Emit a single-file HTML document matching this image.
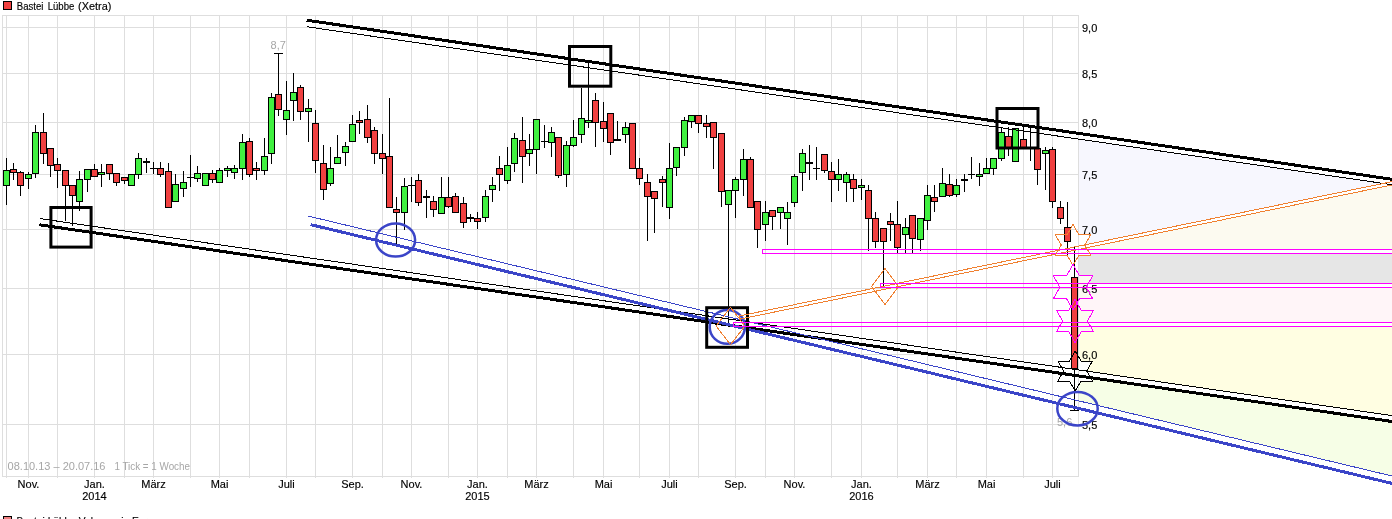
<!DOCTYPE html>
<html lang="de"><head><meta charset="utf-8"><title>Bastei Lübbe (Xetra)</title>
<style>html,body{margin:0;padding:0;background:#fff;overflow:hidden}body{width:1392px;height:519px;position:relative;font-family:"Liberation Sans",Arial,sans-serif}svg text{white-space:pre;paint-order:stroke} svg text.k{stroke:#000;stroke-width:0.15px} svg text.g{stroke:none}</style>
</head><body>
<svg width="1392" height="519" viewBox="0 0 1392 519" style="position:absolute;left:0;top:0">
<rect width="1392" height="519" fill="#fff"/>
<g shape-rendering="crispEdges">
<polygon points="1079,139.1 1392,184.7 1079,247.8" fill="#f7f7fe"/>
<polygon points="1079,247.8 1392,183.5 1392,249 1079,249" fill="#fcfaf0"/>
<rect x="1079" y="253" width="313" height="31" fill="#e6e6e6"/>
<rect x="1079" y="287" width="313" height="36" fill="#fff5f8"/>
<polygon points="1079,326 1392,326 1392,415.6 1079,370.0" fill="#fffee2"/>
<polygon points="1079,376.0 1392,421.5 1392,476 1079,400.9" fill="#f6fee6"/>
<defs><clipPath id="rc"><rect x="1079" y="0" width="400" height="519"/></clipPath></defs>
<polygon points="1073.00,224.60 1078.89,234.80 1090.67,234.80 1084.78,245.00 1090.67,255.20 1078.89,255.20 1073.00,265.40 1067.11,255.20 1055.33,255.20 1061.22,245.00 1055.33,234.80 1067.11,234.80" fill="#ffffff" clip-path="url(#rc)"/>
<polygon points="1073.00,264.60 1079.55,275.95 1092.66,275.95 1086.11,287.30 1092.66,298.65 1079.55,298.65 1073.00,310.00 1066.45,298.65 1053.34,298.65 1059.89,287.30 1053.34,275.95 1066.45,275.95" fill="#fcfaf0" clip-path="url(#rc)"/>
<polygon points="1075.00,299.50 1081.21,310.25 1093.62,310.25 1087.41,321.00 1093.62,331.75 1081.21,331.75 1075.00,342.50 1068.79,331.75 1056.38,331.75 1062.59,321.00 1056.38,310.25 1068.79,310.25" fill="#fcfaf0" clip-path="url(#rc)"/>
<polygon points="1075.20,351.00 1080.97,361.00 1092.52,361.00 1086.75,371.00 1092.52,381.00 1080.97,381.00 1075.20,391.00 1069.43,381.00 1057.88,381.00 1063.65,371.00 1057.88,361.00 1069.43,361.00" fill="#ffffff" clip-path="url(#rc)"/>
<polygon points="740.12,319.07 1402.32,182.81 1401.68,179.67 739.48,315.93" fill="#ffffff" clip-path="url(#rc)"/>
<rect x="2" y="27" width="1077" height="1" fill="#dedede"/>
<rect x="2" y="73" width="1077" height="1" fill="#dedede"/>
<rect x="2" y="122" width="1077" height="1" fill="#dedede"/>
<rect x="2" y="174" width="1077" height="1" fill="#dedede"/>
<rect x="2" y="229" width="1077" height="1" fill="#dedede"/>
<rect x="2" y="288" width="1077" height="1" fill="#dedede"/>
<rect x="2" y="354" width="1077" height="1" fill="#dedede"/>
<rect x="2" y="424" width="1077" height="1" fill="#dedede"/>
<rect x="6" y="15" width="1" height="463" fill="#dedede"/>
<rect x="28" y="15" width="1" height="463" fill="#dedede"/>
<rect x="57" y="15" width="1" height="463" fill="#dedede"/>
<rect x="94" y="15" width="1" height="463" fill="#dedede"/>
<rect x="124" y="15" width="1" height="463" fill="#dedede"/>
<rect x="153" y="15" width="1" height="463" fill="#dedede"/>
<rect x="190" y="15" width="1" height="463" fill="#dedede"/>
<rect x="219" y="15" width="1" height="463" fill="#dedede"/>
<rect x="249" y="15" width="1" height="463" fill="#dedede"/>
<rect x="286" y="15" width="1" height="463" fill="#dedede"/>
<rect x="315" y="15" width="1" height="463" fill="#dedede"/>
<rect x="352" y="15" width="1" height="463" fill="#dedede"/>
<rect x="382" y="15" width="1" height="463" fill="#dedede"/>
<rect x="411" y="15" width="1" height="463" fill="#dedede"/>
<rect x="448" y="15" width="1" height="463" fill="#dedede"/>
<rect x="477" y="15" width="1" height="463" fill="#dedede"/>
<rect x="507" y="15" width="1" height="463" fill="#dedede"/>
<rect x="536" y="15" width="1" height="463" fill="#dedede"/>
<rect x="573" y="15" width="1" height="463" fill="#dedede"/>
<rect x="603" y="15" width="1" height="463" fill="#dedede"/>
<rect x="639" y="15" width="1" height="463" fill="#dedede"/>
<rect x="669" y="15" width="1" height="463" fill="#dedede"/>
<rect x="698" y="15" width="1" height="463" fill="#dedede"/>
<rect x="735" y="15" width="1" height="463" fill="#dedede"/>
<rect x="765" y="15" width="1" height="463" fill="#dedede"/>
<rect x="794" y="15" width="1" height="463" fill="#dedede"/>
<rect x="831" y="15" width="1" height="463" fill="#dedede"/>
<rect x="861" y="15" width="1" height="463" fill="#dedede"/>
<rect x="897" y="15" width="1" height="463" fill="#dedede"/>
<rect x="927" y="15" width="1" height="463" fill="#dedede"/>
<rect x="956" y="15" width="1" height="463" fill="#dedede"/>
<rect x="986" y="15" width="1" height="463" fill="#dedede"/>
<rect x="1023" y="15" width="1" height="463" fill="#dedede"/>
<rect x="1052" y="15" width="1" height="463" fill="#dedede"/>
<rect x="2" y="15" width="1077" height="1" fill="#dedede"/>
<rect x="2" y="476" width="1077" height="1" fill="#dedede"/>
<rect x="2" y="15" width="1" height="462" fill="#dedede"/>
<rect x="1078" y="15" width="1" height="462" fill="#dedede"/>
<rect x="6" y="158" width="1" height="47" fill="#000"/>
<rect x="3" y="170" width="7" height="16" fill="#000"/>
<rect x="4" y="171" width="5" height="14" fill="#40f040"/>
<rect x="13" y="163" width="1" height="17" fill="#000"/>
<rect x="10" y="169" width="7" height="4" fill="#000"/>
<rect x="11" y="170" width="5" height="2" fill="#f04040"/>
<rect x="20" y="171" width="1" height="25" fill="#000"/>
<rect x="17" y="172" width="7" height="14" fill="#000"/>
<rect x="18" y="173" width="5" height="12" fill="#f04040"/>
<rect x="28" y="172" width="1" height="17" fill="#000"/>
<rect x="25" y="174" width="7" height="5" fill="#000"/>
<rect x="26" y="175" width="5" height="3" fill="#40f040"/>
<rect x="35" y="125" width="1" height="53" fill="#000"/>
<rect x="32" y="132" width="7" height="42" fill="#000"/>
<rect x="33" y="133" width="5" height="40" fill="#40f040"/>
<rect x="43" y="113" width="1" height="51" fill="#000"/>
<rect x="40" y="132" width="7" height="22" fill="#000"/>
<rect x="41" y="133" width="5" height="20" fill="#f04040"/>
<rect x="50" y="148" width="1" height="29" fill="#000"/>
<rect x="47" y="148" width="7" height="18" fill="#000"/>
<rect x="48" y="149" width="5" height="16" fill="#f04040"/>
<rect x="57" y="158" width="1" height="30" fill="#000"/>
<rect x="54" y="164" width="7" height="7" fill="#000"/>
<rect x="55" y="165" width="5" height="5" fill="#f04040"/>
<rect x="65" y="170" width="1" height="51" fill="#000"/>
<rect x="62" y="170" width="7" height="16" fill="#000"/>
<rect x="63" y="171" width="5" height="14" fill="#f04040"/>
<rect x="72" y="185" width="1" height="41" fill="#000"/>
<rect x="69" y="185" width="7" height="11" fill="#000"/>
<rect x="70" y="186" width="5" height="9" fill="#f04040"/>
<rect x="79" y="171" width="1" height="40" fill="#000"/>
<rect x="76" y="179" width="7" height="23" fill="#000"/>
<rect x="77" y="180" width="5" height="21" fill="#40f040"/>
<rect x="87" y="169" width="1" height="23" fill="#000"/>
<rect x="84" y="169" width="7" height="11" fill="#000"/>
<rect x="85" y="170" width="5" height="9" fill="#40f040"/>
<rect x="94" y="164" width="1" height="13" fill="#000"/>
<rect x="91" y="169" width="7" height="8" fill="#000"/>
<rect x="92" y="170" width="5" height="6" fill="#f04040"/>
<rect x="101" y="164" width="1" height="23" fill="#000"/>
<rect x="98" y="172" width="7" height="3" fill="#000"/>
<rect x="99" y="173" width="5" height="1" fill="#40f040"/>
<rect x="109" y="164" width="1" height="16" fill="#000"/>
<rect x="106" y="164" width="7" height="10" fill="#000"/>
<rect x="107" y="165" width="5" height="8" fill="#f04040"/>
<rect x="116" y="173" width="1" height="13" fill="#000"/>
<rect x="113" y="173" width="7" height="10" fill="#000"/>
<rect x="114" y="174" width="5" height="8" fill="#f04040"/>
<rect x="124" y="177" width="1" height="7" fill="#000"/>
<rect x="121" y="177" width="7" height="4" fill="#000"/>
<rect x="122" y="178" width="5" height="2" fill="#f04040"/>
<rect x="131" y="174" width="1" height="12" fill="#000"/>
<rect x="128" y="174" width="7" height="12" fill="#000"/>
<rect x="129" y="175" width="5" height="10" fill="#40f040"/>
<rect x="138" y="153" width="1" height="26" fill="#000"/>
<rect x="135" y="158" width="7" height="17" fill="#000"/>
<rect x="136" y="159" width="5" height="15" fill="#40f040"/>
<rect x="146" y="158" width="1" height="15" fill="#000"/>
<rect x="143" y="161" width="7" height="2" fill="#000"/>
<rect x="153" y="162" width="1" height="12" fill="#000"/>
<rect x="150" y="168" width="7" height="1" fill="#000"/>
<rect x="160" y="162" width="1" height="15" fill="#000"/>
<rect x="157" y="168" width="7" height="7" fill="#000"/>
<rect x="158" y="169" width="5" height="5" fill="#f04040"/>
<rect x="168" y="163" width="1" height="45" fill="#000"/>
<rect x="165" y="171" width="7" height="37" fill="#000"/>
<rect x="166" y="172" width="5" height="35" fill="#f04040"/>
<rect x="175" y="174" width="1" height="28" fill="#000"/>
<rect x="172" y="184" width="7" height="18" fill="#000"/>
<rect x="173" y="185" width="5" height="16" fill="#40f040"/>
<rect x="183" y="171" width="1" height="26" fill="#000"/>
<rect x="180" y="182" width="7" height="7" fill="#000"/>
<rect x="181" y="183" width="5" height="5" fill="#40f040"/>
<rect x="190" y="155" width="1" height="32" fill="#000"/>
<rect x="187" y="177" width="7" height="1" fill="#000"/>
<rect x="197" y="166" width="1" height="16" fill="#000"/>
<rect x="194" y="173" width="7" height="6" fill="#000"/>
<rect x="195" y="174" width="5" height="4" fill="#40f040"/>
<rect x="205" y="173" width="1" height="13" fill="#000"/>
<rect x="202" y="173" width="7" height="13" fill="#000"/>
<rect x="203" y="174" width="5" height="11" fill="#40f040"/>
<rect x="212" y="170" width="1" height="13" fill="#000"/>
<rect x="209" y="173" width="7" height="7" fill="#000"/>
<rect x="210" y="174" width="5" height="5" fill="#f04040"/>
<rect x="219" y="168" width="1" height="15" fill="#000"/>
<rect x="216" y="170" width="7" height="13" fill="#000"/>
<rect x="217" y="171" width="5" height="11" fill="#40f040"/>
<rect x="227" y="166" width="1" height="11" fill="#000"/>
<rect x="224" y="168" width="7" height="3" fill="#000"/>
<rect x="225" y="169" width="5" height="1" fill="#40f040"/>
<rect x="234" y="165" width="1" height="14" fill="#000"/>
<rect x="231" y="168" width="7" height="5" fill="#000"/>
<rect x="232" y="169" width="5" height="3" fill="#40f040"/>
<rect x="242" y="134" width="1" height="46" fill="#000"/>
<rect x="239" y="142" width="7" height="27" fill="#000"/>
<rect x="240" y="143" width="5" height="25" fill="#40f040"/>
<rect x="249" y="138" width="1" height="39" fill="#000"/>
<rect x="246" y="141" width="7" height="34" fill="#000"/>
<rect x="247" y="142" width="5" height="32" fill="#f04040"/>
<rect x="256" y="162" width="1" height="18" fill="#000"/>
<rect x="253" y="168" width="7" height="3" fill="#000"/>
<rect x="254" y="169" width="5" height="1" fill="#f04040"/>
<rect x="264" y="138" width="1" height="37" fill="#000"/>
<rect x="261" y="156" width="7" height="15" fill="#000"/>
<rect x="262" y="157" width="5" height="13" fill="#40f040"/>
<rect x="271" y="93" width="1" height="71" fill="#000"/>
<rect x="268" y="97" width="7" height="57" fill="#000"/>
<rect x="269" y="98" width="5" height="55" fill="#40f040"/>
<rect x="278" y="53" width="1" height="63" fill="#000"/>
<rect x="275" y="94" width="7" height="16" fill="#000"/>
<rect x="276" y="95" width="5" height="14" fill="#f04040"/>
<rect x="286" y="81" width="1" height="54" fill="#000"/>
<rect x="283" y="110" width="7" height="10" fill="#000"/>
<rect x="284" y="111" width="5" height="8" fill="#40f040"/>
<rect x="293" y="73" width="1" height="48" fill="#000"/>
<rect x="290" y="92" width="7" height="9" fill="#000"/>
<rect x="291" y="93" width="5" height="7" fill="#40f040"/>
<rect x="300" y="85" width="1" height="35" fill="#000"/>
<rect x="297" y="87" width="7" height="25" fill="#000"/>
<rect x="298" y="88" width="5" height="23" fill="#f04040"/>
<rect x="308" y="99" width="1" height="43" fill="#000"/>
<rect x="305" y="108" width="7" height="4" fill="#000"/>
<rect x="306" y="109" width="5" height="2" fill="#40f040"/>
<rect x="315" y="110" width="1" height="63" fill="#000"/>
<rect x="312" y="123" width="7" height="38" fill="#000"/>
<rect x="313" y="124" width="5" height="36" fill="#f04040"/>
<rect x="323" y="145" width="1" height="55" fill="#000"/>
<rect x="320" y="163" width="7" height="27" fill="#000"/>
<rect x="321" y="164" width="5" height="25" fill="#f04040"/>
<rect x="330" y="147" width="1" height="39" fill="#000"/>
<rect x="327" y="168" width="7" height="16" fill="#000"/>
<rect x="328" y="169" width="5" height="14" fill="#40f040"/>
<rect x="337" y="135" width="1" height="29" fill="#000"/>
<rect x="334" y="157" width="7" height="7" fill="#000"/>
<rect x="335" y="158" width="5" height="5" fill="#40f040"/>
<rect x="345" y="142" width="1" height="24" fill="#000"/>
<rect x="342" y="146" width="7" height="7" fill="#000"/>
<rect x="343" y="147" width="5" height="5" fill="#40f040"/>
<rect x="352" y="115" width="1" height="27" fill="#000"/>
<rect x="349" y="124" width="7" height="18" fill="#000"/>
<rect x="350" y="125" width="5" height="16" fill="#40f040"/>
<rect x="359" y="111" width="1" height="23" fill="#000"/>
<rect x="356" y="120" width="7" height="3" fill="#000"/>
<rect x="357" y="121" width="5" height="1" fill="#f04040"/>
<rect x="367" y="105" width="1" height="38" fill="#000"/>
<rect x="364" y="119" width="7" height="19" fill="#000"/>
<rect x="365" y="120" width="5" height="17" fill="#f04040"/>
<rect x="374" y="127" width="1" height="37" fill="#000"/>
<rect x="371" y="130" width="7" height="24" fill="#000"/>
<rect x="372" y="131" width="5" height="22" fill="#f04040"/>
<rect x="382" y="134" width="1" height="40" fill="#000"/>
<rect x="379" y="153" width="7" height="6" fill="#000"/>
<rect x="380" y="154" width="5" height="4" fill="#f04040"/>
<rect x="389" y="98" width="1" height="110" fill="#000"/>
<rect x="386" y="156" width="7" height="52" fill="#000"/>
<rect x="387" y="157" width="5" height="50" fill="#f04040"/>
<rect x="396" y="197" width="1" height="47" fill="#000"/>
<rect x="393" y="209" width="7" height="4" fill="#000"/>
<rect x="394" y="210" width="5" height="2" fill="#f04040"/>
<rect x="404" y="178" width="1" height="52" fill="#000"/>
<rect x="401" y="186" width="7" height="27" fill="#000"/>
<rect x="402" y="187" width="5" height="25" fill="#40f040"/>
<rect x="411" y="177" width="1" height="25" fill="#000"/>
<rect x="408" y="185" width="7" height="1" fill="#000"/>
<rect x="418" y="174" width="1" height="32" fill="#000"/>
<rect x="415" y="180" width="7" height="23" fill="#000"/>
<rect x="416" y="181" width="5" height="21" fill="#f04040"/>
<rect x="426" y="190" width="1" height="28" fill="#000"/>
<rect x="423" y="196" width="7" height="2" fill="#000"/>
<rect x="433" y="196" width="1" height="21" fill="#000"/>
<rect x="430" y="201" width="7" height="9" fill="#000"/>
<rect x="431" y="202" width="5" height="7" fill="#f04040"/>
<rect x="441" y="177" width="1" height="37" fill="#000"/>
<rect x="438" y="197" width="7" height="17" fill="#000"/>
<rect x="439" y="198" width="5" height="15" fill="#40f040"/>
<rect x="448" y="177" width="1" height="31" fill="#000"/>
<rect x="445" y="197" width="7" height="10" fill="#000"/>
<rect x="446" y="198" width="5" height="8" fill="#f04040"/>
<rect x="455" y="193" width="1" height="20" fill="#000"/>
<rect x="452" y="196" width="7" height="17" fill="#000"/>
<rect x="453" y="197" width="5" height="15" fill="#f04040"/>
<rect x="463" y="197" width="1" height="31" fill="#000"/>
<rect x="460" y="203" width="7" height="20" fill="#000"/>
<rect x="461" y="204" width="5" height="18" fill="#f04040"/>
<rect x="470" y="214" width="1" height="8" fill="#000"/>
<rect x="467" y="217" width="7" height="2" fill="#000"/>
<rect x="477" y="212" width="1" height="17" fill="#000"/>
<rect x="474" y="218" width="7" height="4" fill="#000"/>
<rect x="475" y="219" width="5" height="2" fill="#f04040"/>
<rect x="485" y="190" width="1" height="32" fill="#000"/>
<rect x="482" y="196" width="7" height="22" fill="#000"/>
<rect x="483" y="197" width="5" height="20" fill="#40f040"/>
<rect x="492" y="177" width="1" height="25" fill="#000"/>
<rect x="489" y="185" width="7" height="5" fill="#000"/>
<rect x="490" y="186" width="5" height="3" fill="#40f040"/>
<rect x="499" y="156" width="1" height="35" fill="#000"/>
<rect x="496" y="168" width="7" height="7" fill="#000"/>
<rect x="497" y="169" width="5" height="5" fill="#f04040"/>
<rect x="507" y="147" width="1" height="37" fill="#000"/>
<rect x="504" y="165" width="7" height="16" fill="#000"/>
<rect x="505" y="166" width="5" height="14" fill="#40f040"/>
<rect x="514" y="133" width="1" height="39" fill="#000"/>
<rect x="511" y="138" width="7" height="26" fill="#000"/>
<rect x="512" y="139" width="5" height="24" fill="#40f040"/>
<rect x="522" y="117" width="1" height="66" fill="#000"/>
<rect x="519" y="140" width="7" height="17" fill="#000"/>
<rect x="520" y="141" width="5" height="15" fill="#f04040"/>
<rect x="529" y="134" width="1" height="32" fill="#000"/>
<rect x="526" y="149" width="7" height="5" fill="#000"/>
<rect x="527" y="150" width="5" height="3" fill="#40f040"/>
<rect x="536" y="119" width="1" height="55" fill="#000"/>
<rect x="533" y="119" width="7" height="31" fill="#000"/>
<rect x="534" y="120" width="5" height="29" fill="#40f040"/>
<rect x="544" y="125" width="1" height="23" fill="#000"/>
<rect x="541" y="141" width="7" height="1" fill="#000"/>
<rect x="551" y="127" width="1" height="30" fill="#000"/>
<rect x="548" y="132" width="7" height="11" fill="#000"/>
<rect x="549" y="133" width="5" height="9" fill="#40f040"/>
<rect x="558" y="137" width="1" height="41" fill="#000"/>
<rect x="555" y="137" width="7" height="39" fill="#000"/>
<rect x="556" y="138" width="5" height="37" fill="#f04040"/>
<rect x="566" y="141" width="1" height="46" fill="#000"/>
<rect x="563" y="145" width="7" height="30" fill="#000"/>
<rect x="564" y="146" width="5" height="28" fill="#40f040"/>
<rect x="573" y="120" width="1" height="27" fill="#000"/>
<rect x="570" y="137" width="7" height="9" fill="#000"/>
<rect x="571" y="138" width="5" height="7" fill="#40f040"/>
<rect x="581" y="88" width="1" height="55" fill="#000"/>
<rect x="578" y="118" width="7" height="17" fill="#000"/>
<rect x="579" y="119" width="5" height="15" fill="#40f040"/>
<rect x="588" y="62" width="1" height="66" fill="#000"/>
<rect x="585" y="120" width="7" height="3" fill="#000"/>
<rect x="586" y="121" width="5" height="1" fill="#40f040"/>
<rect x="595" y="93" width="1" height="54" fill="#000"/>
<rect x="592" y="100" width="7" height="23" fill="#000"/>
<rect x="593" y="101" width="5" height="21" fill="#f04040"/>
<rect x="603" y="102" width="1" height="40" fill="#000"/>
<rect x="600" y="121" width="7" height="8" fill="#000"/>
<rect x="601" y="122" width="5" height="6" fill="#f04040"/>
<rect x="610" y="113" width="1" height="42" fill="#000"/>
<rect x="607" y="113" width="7" height="30" fill="#000"/>
<rect x="608" y="114" width="5" height="28" fill="#f04040"/>
<rect x="617" y="121" width="1" height="20" fill="#000"/>
<rect x="614" y="139" width="7" height="2" fill="#000"/>
<rect x="625" y="122" width="1" height="21" fill="#000"/>
<rect x="622" y="127" width="7" height="8" fill="#000"/>
<rect x="623" y="128" width="5" height="6" fill="#40f040"/>
<rect x="632" y="123" width="1" height="46" fill="#000"/>
<rect x="629" y="123" width="7" height="46" fill="#000"/>
<rect x="630" y="124" width="5" height="44" fill="#f04040"/>
<rect x="639" y="158" width="1" height="27" fill="#000"/>
<rect x="636" y="168" width="7" height="11" fill="#000"/>
<rect x="637" y="169" width="5" height="9" fill="#f04040"/>
<rect x="647" y="174" width="1" height="67" fill="#000"/>
<rect x="644" y="182" width="7" height="15" fill="#000"/>
<rect x="645" y="183" width="5" height="13" fill="#f04040"/>
<rect x="654" y="191" width="1" height="42" fill="#000"/>
<rect x="651" y="191" width="7" height="8" fill="#000"/>
<rect x="652" y="192" width="5" height="6" fill="#f04040"/>
<rect x="662" y="176" width="1" height="31" fill="#000"/>
<rect x="659" y="179" width="7" height="4" fill="#000"/>
<rect x="660" y="180" width="5" height="2" fill="#f04040"/>
<rect x="669" y="143" width="1" height="76" fill="#000"/>
<rect x="666" y="168" width="7" height="40" fill="#000"/>
<rect x="667" y="169" width="5" height="38" fill="#40f040"/>
<rect x="676" y="147" width="1" height="29" fill="#000"/>
<rect x="673" y="147" width="7" height="21" fill="#000"/>
<rect x="674" y="148" width="5" height="19" fill="#40f040"/>
<rect x="684" y="117" width="1" height="39" fill="#000"/>
<rect x="681" y="120" width="7" height="28" fill="#000"/>
<rect x="682" y="121" width="5" height="26" fill="#40f040"/>
<rect x="691" y="115" width="1" height="13" fill="#000"/>
<rect x="688" y="115" width="7" height="7" fill="#000"/>
<rect x="689" y="116" width="5" height="5" fill="#40f040"/>
<rect x="698" y="115" width="1" height="18" fill="#000"/>
<rect x="695" y="115" width="7" height="9" fill="#000"/>
<rect x="696" y="116" width="5" height="7" fill="#f04040"/>
<rect x="706" y="115" width="1" height="23" fill="#000"/>
<rect x="703" y="123" width="7" height="4" fill="#000"/>
<rect x="704" y="124" width="5" height="2" fill="#f04040"/>
<rect x="713" y="122" width="1" height="47" fill="#000"/>
<rect x="710" y="122" width="7" height="16" fill="#000"/>
<rect x="711" y="123" width="5" height="14" fill="#f04040"/>
<rect x="721" y="133" width="1" height="74" fill="#000"/>
<rect x="718" y="133" width="7" height="59" fill="#000"/>
<rect x="719" y="134" width="5" height="57" fill="#f04040"/>
<rect x="728" y="190" width="1" height="133" fill="#000"/>
<rect x="725" y="190" width="7" height="15" fill="#000"/>
<rect x="726" y="191" width="5" height="13" fill="#40f040"/>
<rect x="735" y="177" width="1" height="41" fill="#000"/>
<rect x="732" y="179" width="7" height="12" fill="#000"/>
<rect x="733" y="180" width="5" height="10" fill="#40f040"/>
<rect x="743" y="149" width="1" height="47" fill="#000"/>
<rect x="740" y="159" width="7" height="21" fill="#000"/>
<rect x="741" y="160" width="5" height="19" fill="#40f040"/>
<rect x="750" y="157" width="1" height="51" fill="#000"/>
<rect x="747" y="159" width="7" height="49" fill="#000"/>
<rect x="748" y="160" width="5" height="47" fill="#f04040"/>
<rect x="757" y="201" width="1" height="47" fill="#000"/>
<rect x="754" y="201" width="7" height="29" fill="#000"/>
<rect x="755" y="202" width="5" height="27" fill="#f04040"/>
<rect x="765" y="201" width="1" height="40" fill="#000"/>
<rect x="762" y="212" width="7" height="13" fill="#000"/>
<rect x="763" y="213" width="5" height="11" fill="#40f040"/>
<rect x="772" y="210" width="1" height="20" fill="#000"/>
<rect x="769" y="210" width="7" height="7" fill="#000"/>
<rect x="770" y="211" width="5" height="5" fill="#f04040"/>
<rect x="780" y="207" width="1" height="22" fill="#000"/>
<rect x="777" y="207" width="7" height="6" fill="#000"/>
<rect x="778" y="208" width="5" height="4" fill="#40f040"/>
<rect x="787" y="202" width="1" height="43" fill="#000"/>
<rect x="784" y="212" width="7" height="7" fill="#000"/>
<rect x="785" y="213" width="5" height="5" fill="#40f040"/>
<rect x="794" y="174" width="1" height="33" fill="#000"/>
<rect x="791" y="176" width="7" height="27" fill="#000"/>
<rect x="792" y="177" width="5" height="25" fill="#40f040"/>
<rect x="802" y="149" width="1" height="42" fill="#000"/>
<rect x="799" y="153" width="7" height="20" fill="#000"/>
<rect x="800" y="154" width="5" height="18" fill="#40f040"/>
<rect x="809" y="145" width="1" height="35" fill="#000"/>
<rect x="806" y="162" width="7" height="2" fill="#000"/>
<rect x="816" y="147" width="1" height="33" fill="#000"/>
<rect x="813" y="168" width="7" height="1" fill="#000"/>
<rect x="824" y="154" width="1" height="19" fill="#000"/>
<rect x="821" y="154" width="7" height="17" fill="#000"/>
<rect x="822" y="155" width="5" height="15" fill="#f04040"/>
<rect x="831" y="162" width="1" height="40" fill="#000"/>
<rect x="828" y="171" width="7" height="9" fill="#000"/>
<rect x="829" y="172" width="5" height="7" fill="#f04040"/>
<rect x="838" y="159" width="1" height="32" fill="#000"/>
<rect x="835" y="174" width="7" height="6" fill="#000"/>
<rect x="836" y="175" width="5" height="4" fill="#40f040"/>
<rect x="846" y="172" width="1" height="30" fill="#000"/>
<rect x="843" y="174" width="7" height="9" fill="#000"/>
<rect x="844" y="175" width="5" height="7" fill="#40f040"/>
<rect x="853" y="174" width="1" height="28" fill="#000"/>
<rect x="850" y="179" width="7" height="10" fill="#000"/>
<rect x="851" y="180" width="5" height="8" fill="#f04040"/>
<rect x="861" y="179" width="1" height="21" fill="#000"/>
<rect x="858" y="185" width="7" height="3" fill="#000"/>
<rect x="859" y="186" width="5" height="1" fill="#40f040"/>
<rect x="868" y="185" width="1" height="66" fill="#000"/>
<rect x="865" y="190" width="7" height="29" fill="#000"/>
<rect x="866" y="191" width="5" height="27" fill="#f04040"/>
<rect x="875" y="212" width="1" height="36" fill="#000"/>
<rect x="872" y="218" width="7" height="24" fill="#000"/>
<rect x="873" y="219" width="5" height="22" fill="#f04040"/>
<rect x="883" y="228" width="1" height="60" fill="#000"/>
<rect x="880" y="228" width="7" height="14" fill="#000"/>
<rect x="881" y="229" width="5" height="12" fill="#f04040"/>
<rect x="890" y="213" width="1" height="28" fill="#000"/>
<rect x="887" y="221" width="7" height="4" fill="#000"/>
<rect x="888" y="222" width="5" height="2" fill="#f04040"/>
<rect x="897" y="201" width="1" height="52" fill="#000"/>
<rect x="894" y="224" width="7" height="24" fill="#000"/>
<rect x="895" y="225" width="5" height="22" fill="#f04040"/>
<rect x="905" y="218" width="1" height="35" fill="#000"/>
<rect x="902" y="227" width="7" height="8" fill="#000"/>
<rect x="903" y="228" width="5" height="6" fill="#40f040"/>
<rect x="912" y="215" width="1" height="38" fill="#000"/>
<rect x="909" y="215" width="7" height="24" fill="#000"/>
<rect x="910" y="216" width="5" height="22" fill="#f04040"/>
<rect x="920" y="218" width="1" height="33" fill="#000"/>
<rect x="917" y="218" width="7" height="22" fill="#000"/>
<rect x="918" y="219" width="5" height="20" fill="#40f040"/>
<rect x="927" y="185" width="1" height="45" fill="#000"/>
<rect x="924" y="195" width="7" height="26" fill="#000"/>
<rect x="925" y="196" width="5" height="24" fill="#40f040"/>
<rect x="934" y="185" width="1" height="27" fill="#000"/>
<rect x="931" y="197" width="7" height="5" fill="#000"/>
<rect x="932" y="198" width="5" height="3" fill="#f04040"/>
<rect x="942" y="168" width="1" height="29" fill="#000"/>
<rect x="939" y="183" width="7" height="14" fill="#000"/>
<rect x="940" y="184" width="5" height="12" fill="#40f040"/>
<rect x="949" y="174" width="1" height="23" fill="#000"/>
<rect x="946" y="184" width="7" height="12" fill="#000"/>
<rect x="947" y="185" width="5" height="10" fill="#f04040"/>
<rect x="956" y="179" width="1" height="18" fill="#000"/>
<rect x="953" y="185" width="7" height="10" fill="#000"/>
<rect x="954" y="186" width="5" height="8" fill="#40f040"/>
<rect x="964" y="174" width="1" height="18" fill="#000"/>
<rect x="961" y="179" width="7" height="2" fill="#000"/>
<rect x="971" y="157" width="1" height="22" fill="#000"/>
<rect x="968" y="174" width="7" height="1" fill="#000"/>
<rect x="979" y="163" width="1" height="23" fill="#000"/>
<rect x="976" y="174" width="7" height="3" fill="#000"/>
<rect x="977" y="175" width="5" height="1" fill="#40f040"/>
<rect x="986" y="158" width="1" height="16" fill="#000"/>
<rect x="983" y="168" width="7" height="6" fill="#000"/>
<rect x="984" y="169" width="5" height="4" fill="#40f040"/>
<rect x="993" y="158" width="1" height="17" fill="#000"/>
<rect x="990" y="158" width="7" height="11" fill="#000"/>
<rect x="991" y="159" width="5" height="9" fill="#40f040"/>
<rect x="1001" y="127" width="1" height="34" fill="#000"/>
<rect x="998" y="132" width="7" height="27" fill="#000"/>
<rect x="999" y="133" width="5" height="25" fill="#40f040"/>
<rect x="1008" y="127" width="1" height="29" fill="#000"/>
<rect x="1005" y="136" width="7" height="13" fill="#000"/>
<rect x="1006" y="137" width="5" height="11" fill="#f04040"/>
<rect x="1015" y="128" width="1" height="34" fill="#000"/>
<rect x="1012" y="128" width="7" height="34" fill="#000"/>
<rect x="1013" y="129" width="5" height="32" fill="#40f040"/>
<rect x="1023" y="125" width="1" height="24" fill="#000"/>
<rect x="1020" y="139" width="7" height="10" fill="#000"/>
<rect x="1021" y="140" width="5" height="8" fill="#f04040"/>
<rect x="1030" y="125" width="1" height="36" fill="#000"/>
<rect x="1027" y="147" width="7" height="2" fill="#000"/>
<rect x="1037" y="148" width="1" height="37" fill="#000"/>
<rect x="1034" y="148" width="7" height="22" fill="#000"/>
<rect x="1035" y="149" width="5" height="20" fill="#f04040"/>
<rect x="1045" y="147" width="1" height="43" fill="#000"/>
<rect x="1042" y="150" width="7" height="4" fill="#000"/>
<rect x="1043" y="151" width="5" height="2" fill="#40f040"/>
<rect x="1052" y="147" width="1" height="61" fill="#000"/>
<rect x="1049" y="149" width="7" height="53" fill="#000"/>
<rect x="1050" y="150" width="5" height="51" fill="#f04040"/>
<rect x="1060" y="201" width="1" height="23" fill="#000"/>
<rect x="1057" y="207" width="7" height="12" fill="#000"/>
<rect x="1058" y="208" width="5" height="10" fill="#f04040"/>
<rect x="1067" y="202" width="1" height="54" fill="#000"/>
<rect x="1064" y="227" width="7" height="15" fill="#000"/>
<rect x="1065" y="228" width="5" height="13" fill="#f04040"/>
<rect x="1074" y="246" width="1" height="164" fill="#000"/>
<rect x="1071" y="277" width="7" height="92" fill="#000"/>
<rect x="1072" y="278" width="5" height="90" fill="#f04040"/>
<rect x="274" y="53" width="9" height="1" fill="#000"/>
<rect x="1070" y="410" width="9" height="1" fill="#000"/>
</g>
<rect x="3.5" y="1.5" width="8" height="8" fill="#f04040" stroke="#000" stroke-width="1" shape-rendering="crispEdges"/>
<text y="10" font-family="Liberation Sans, Arial, sans-serif" font-size="10.4" fill="#000" class="k"><tspan x="16.8" textLength="26.6" lengthAdjust="spacingAndGlyphs">Bastei</tspan> <tspan x="47.7" textLength="26.6" lengthAdjust="spacingAndGlyphs">Lübbe</tspan> <tspan x="78" textLength="33.4" lengthAdjust="spacingAndGlyphs">(Xetra)</tspan></text>
<text x="1082" y="32" font-family="Liberation Sans, Arial, sans-serif" font-size="11" fill="#000" class="k">9,0</text>
<text x="1082" y="78" font-family="Liberation Sans, Arial, sans-serif" font-size="11" fill="#000" class="k">8,5</text>
<text x="1082" y="127" font-family="Liberation Sans, Arial, sans-serif" font-size="11" fill="#000" class="k">8,0</text>
<text x="1082" y="179" font-family="Liberation Sans, Arial, sans-serif" font-size="11" fill="#000" class="k">7,5</text>
<text x="1082" y="234" font-family="Liberation Sans, Arial, sans-serif" font-size="11" fill="#000" class="k">7,0</text>
<text x="1082" y="293" font-family="Liberation Sans, Arial, sans-serif" font-size="11" fill="#000" class="k">6,5</text>
<text x="1082" y="359" font-family="Liberation Sans, Arial, sans-serif" font-size="11" fill="#000" class="k">6,0</text>
<text x="1082" y="429" font-family="Liberation Sans, Arial, sans-serif" font-size="11" fill="#000" class="k">5,5</text>
<text x="28.5" y="488" font-family="Liberation Sans, Arial, sans-serif" font-size="11" fill="#000" class="k" text-anchor="middle">Nov.</text>
<text x="94.5" y="488" font-family="Liberation Sans, Arial, sans-serif" font-size="11" fill="#000" class="k" text-anchor="middle">Jan.</text>
<text x="94.5" y="500" font-family="Liberation Sans, Arial, sans-serif" font-size="11" fill="#000" class="k" text-anchor="middle">2014</text>
<text x="153.5" y="488" font-family="Liberation Sans, Arial, sans-serif" font-size="11" fill="#000" class="k" text-anchor="middle">März</text>
<text x="219.5" y="488" font-family="Liberation Sans, Arial, sans-serif" font-size="11" fill="#000" class="k" text-anchor="middle">Mai</text>
<text x="286.5" y="488" font-family="Liberation Sans, Arial, sans-serif" font-size="11" fill="#000" class="k" text-anchor="middle">Juli</text>
<text x="352.5" y="488" font-family="Liberation Sans, Arial, sans-serif" font-size="11" fill="#000" class="k" text-anchor="middle">Sep.</text>
<text x="411.5" y="488" font-family="Liberation Sans, Arial, sans-serif" font-size="11" fill="#000" class="k" text-anchor="middle">Nov.</text>
<text x="477.5" y="488" font-family="Liberation Sans, Arial, sans-serif" font-size="11" fill="#000" class="k" text-anchor="middle">Jan.</text>
<text x="477.5" y="500" font-family="Liberation Sans, Arial, sans-serif" font-size="11" fill="#000" class="k" text-anchor="middle">2015</text>
<text x="536.5" y="488" font-family="Liberation Sans, Arial, sans-serif" font-size="11" fill="#000" class="k" text-anchor="middle">März</text>
<text x="603.5" y="488" font-family="Liberation Sans, Arial, sans-serif" font-size="11" fill="#000" class="k" text-anchor="middle">Mai</text>
<text x="669.5" y="488" font-family="Liberation Sans, Arial, sans-serif" font-size="11" fill="#000" class="k" text-anchor="middle">Juli</text>
<text x="735.5" y="488" font-family="Liberation Sans, Arial, sans-serif" font-size="11" fill="#000" class="k" text-anchor="middle">Sep.</text>
<text x="794.5" y="488" font-family="Liberation Sans, Arial, sans-serif" font-size="11" fill="#000" class="k" text-anchor="middle">Nov.</text>
<text x="861.5" y="488" font-family="Liberation Sans, Arial, sans-serif" font-size="11" fill="#000" class="k" text-anchor="middle">Jan.</text>
<text x="861.5" y="500" font-family="Liberation Sans, Arial, sans-serif" font-size="11" fill="#000" class="k" text-anchor="middle">2016</text>
<text x="927.5" y="488" font-family="Liberation Sans, Arial, sans-serif" font-size="11" fill="#000" class="k" text-anchor="middle">März</text>
<text x="986.5" y="488" font-family="Liberation Sans, Arial, sans-serif" font-size="11" fill="#000" class="k" text-anchor="middle">Mai</text>
<text x="1052.5" y="488" font-family="Liberation Sans, Arial, sans-serif" font-size="11" fill="#000" class="k" text-anchor="middle">Juli</text>
<text y="470" font-family="Liberation Sans, Arial, sans-serif" font-size="11" fill="#a6a6a6" class="g"><tspan x="7.6">08.10.13 – 20.07.16</tspan>   <tspan x="114.4" textLength="75.6" lengthAdjust="spacingAndGlyphs">1 Tick = 1 Woche</tspan></text>
<text x="270.6" y="49.2" font-family="Liberation Sans, Arial, sans-serif" font-size="11" fill="#a6a6a6" class="g">8,7</text>
<text x="1057" y="426" font-family="Liberation Sans, Arial, sans-serif" font-size="11" fill="#a6a6a6" class="g">5,6</text>
<rect x="3.5" y="516.5" width="8" height="8" fill="#f08080" stroke="#000" stroke-width="1" shape-rendering="crispEdges"/>
<text x="16.5" y="525" font-family="Liberation Sans, Arial, sans-serif" font-size="10.4" textLength="137" lengthAdjust="spacingAndGlyphs" fill="#000" class="k">Bastei Lübbe Volumen in Euro</text>
<line x1="306.6" y1="20.2" x2="1392" y2="179.3" stroke="#000" stroke-width="3" shape-rendering="crispEdges" />
<line x1="306.6" y1="26.7" x2="1392" y2="184.7" stroke="#000" stroke-width="1" shape-rendering="crispEdges" />
<line x1="39.4" y1="224.8" x2="1392" y2="421.5" stroke="#000" stroke-width="3" shape-rendering="crispEdges" />
<line x1="40" y1="218.6" x2="1392" y2="415.6" stroke="#000" stroke-width="1" shape-rendering="crispEdges" />
<line x1="310.6" y1="224.6" x2="1392" y2="483.4" stroke="#3b45c8" stroke-width="3" shape-rendering="crispEdges" />
<line x1="308" y1="216" x2="1392" y2="476" stroke="#3b45c8" stroke-width="1" shape-rendering="crispEdges" />
<rect x="50.9" y="207.5" width="40.199999999999996" height="39.599999999999994" fill="none" stroke="#000" stroke-width="3"/>
<rect x="569.5" y="46.5" width="41.299999999999955" height="39.7" fill="none" stroke="#000" stroke-width="3"/>
<rect x="997.0" y="108.5" width="41.0" height="39.5" fill="none" stroke="#000" stroke-width="3"/>
<rect x="706.7" y="307.7" width="40.799999999999955" height="39.60000000000002" fill="none" stroke="#000" stroke-width="3"/>
<ellipse cx="395.6" cy="240" rx="19.5" ry="16.6" fill="none" stroke="#3b45c8" stroke-width="2.5"/>
<ellipse cx="727.3" cy="326.9" rx="17.6" ry="16.9" fill="none" stroke="#3b45c8" stroke-width="2.5"/>
<ellipse cx="1077.5" cy="408.7" rx="20.2" ry="16.8" fill="none" stroke="#3b45c8" stroke-width="2.5"/>
<polygon points="740.12,319.07 1402.32,182.81 1401.68,179.67 739.48,315.93" fill="none" stroke="#f08030" stroke-width="1" shape-rendering="crispEdges"/>
<polygon points="730.5,307.4 745.0,326 730.5,344.6 716.0,326" fill="none" stroke="#f08030" stroke-width="1" shape-rendering="crispEdges"/>
<polygon points="885,268.5 898.5,286.5 885,304.5 871.5,286.5" fill="none" stroke="#f08030" stroke-width="1" shape-rendering="crispEdges"/>
<rect x="762.5" y="249.5" width="635" height="4" fill="none" stroke="#ff00ff" stroke-width="1" shape-rendering="crispEdges"/>
<rect x="880.5" y="283.5" width="517" height="4" fill="none" stroke="#ff00ff" stroke-width="1" shape-rendering="crispEdges"/>
<rect x="733.5" y="322.5" width="664" height="4" fill="none" stroke="#ff00ff" stroke-width="1" shape-rendering="crispEdges"/>
<polygon points="1073.00,224.60 1078.89,234.80 1090.67,234.80 1084.78,245.00 1090.67,255.20 1078.89,255.20 1073.00,265.40 1067.11,255.20 1055.33,255.20 1061.22,245.00 1055.33,234.80 1067.11,234.80" fill="none" stroke="#f08030" stroke-width="1" shape-rendering="crispEdges"/>
<polygon points="1073.00,264.60 1079.55,275.95 1092.66,275.95 1086.11,287.30 1092.66,298.65 1079.55,298.65 1073.00,310.00 1066.45,298.65 1053.34,298.65 1059.89,287.30 1053.34,275.95 1066.45,275.95" fill="none" stroke="#ff00ff" stroke-width="1" shape-rendering="crispEdges"/>
<polygon points="1075.00,299.50 1081.21,310.25 1093.62,310.25 1087.41,321.00 1093.62,331.75 1081.21,331.75 1075.00,342.50 1068.79,331.75 1056.38,331.75 1062.59,321.00 1056.38,310.25 1068.79,310.25" fill="none" stroke="#ff00ff" stroke-width="1" shape-rendering="crispEdges"/>
<polygon points="1075.20,351.00 1080.97,361.00 1092.52,361.00 1086.75,371.00 1092.52,381.00 1080.97,381.00 1075.20,391.00 1069.43,381.00 1057.88,381.00 1063.65,371.00 1057.88,361.00 1069.43,361.00" fill="none" stroke="#000" stroke-width="1" shape-rendering="crispEdges"/>
</svg>
</body></html>
